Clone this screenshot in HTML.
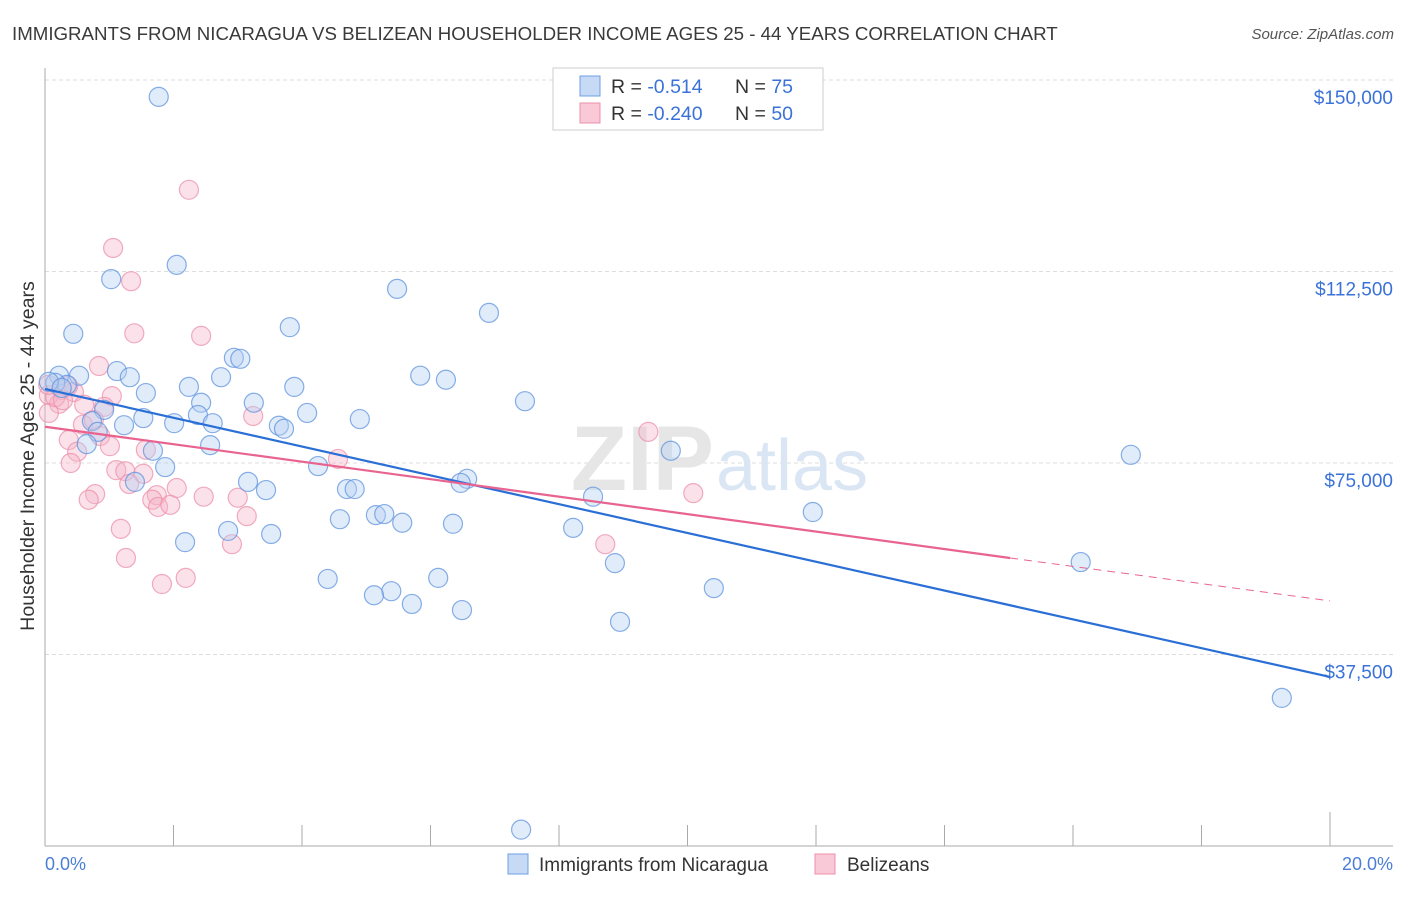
<!DOCTYPE html>
<html><head><meta charset="utf-8"><style>
body{margin:0;background:#fff;font-family:"Liberation Sans",sans-serif;}
svg text{font-family:"Liberation Sans",sans-serif;}
</style></head><body>
<svg id="chart" width="1406" height="892">
<text x="12" y="40" font-size="18.7" fill="#3a3a3a">IMMIGRANTS FROM NICARAGUA VS BELIZEAN HOUSEHOLDER INCOME AGES 25 - 44 YEARS CORRELATION CHART</text>
<text x="1394" y="39" font-size="15" fill="#555" text-anchor="end" font-style="italic">Source: ZipAtlas.com</text>
<g id="grid"></g>
<text x="714" y="490" font-size="92" fill="#e6e6e6" text-anchor="end" font-family="Liberation Serif" font-weight="bold">ZIP</text>
<text x="716" y="490" font-size="72" fill="#dbe6f4">atlas</text>
<g id="pts"></g>
<g id="lines"></g>
<text transform="translate(34,456) rotate(-90)" font-size="19.6" fill="#333" text-anchor="middle">Householder Income Ages 25 - 44 years</text>
<text x="45" y="870" font-size="18" fill="#4a7fd6">0.0%</text>
<text x="1393" y="870" font-size="18" fill="#4a7fd6" text-anchor="end">20.0%</text>
<g>
<rect x="553" y="68" width="270" height="62" fill="#fff" stroke="#ccc"/>
<rect x="580" y="76" width="20" height="20" fill="#c6d9f5" stroke="#6f9fe0"/>
<rect x="580" y="103" width="20" height="20" fill="#f9c9d7" stroke="#ec90ab"/>
<text x="611" y="93" font-size="19.5" fill="#333">R = <tspan fill="#3a72d8">-0.514</tspan><tspan x="735">N = </tspan><tspan fill="#3a72d8">75</tspan></text>
<text x="611" y="120" font-size="19.5" fill="#333">R = <tspan fill="#3a72d8">-0.240</tspan><tspan x="735">N = </tspan><tspan fill="#3a72d8">50</tspan></text>
</g>
<g>
<rect x="508" y="854" width="20" height="20" fill="#c6d9f5" stroke="#6f9fe0"/>
<text x="539" y="871" font-size="19" fill="#333">Immigrants from Nicaragua</text>
<rect x="815" y="854" width="20" height="20" fill="#f9c9d7" stroke="#ec90ab"/>
<text x="847" y="871" font-size="19" fill="#333">Belizeans</text>
</g>
</svg>
<script>
const yTicks=[150000,112500,75000,37500];
const yTickLabels=["$150,000","$112,500","$75,000","$37,500"];
const xTicks=[0,2,4,6,8,10,12,14,16,18,20];
const blueX=[1.77,2.05,1.03,5.48,6.91,3.81,0.44,2.94,3.04,1.12,0.53,1.32,2.74,0.22,5.84,6.24,2.24,3.88,1.57,0.34,0.16,7.47,2.43,3.25,4.08,2.38,0.92,1.53,4.90,2.01,2.61,1.23,0.73,3.64,3.72,0.82,0.65,2.57,9.74,16.90,1.68,1.87,4.25,6.57,6.47,3.16,4.70,4.82,3.44,1.40,8.53,11.95,5.15,5.28,4.59,5.56,6.35,8.22,2.85,3.52,2.18,8.87,16.12,4.40,6.12,5.39,5.12,5.71,6.49,10.41,8.95,19.25,7.41,0.06,0.26];
const blueY=[146700,113800,111000,109100,104400,101600,100300,95600,95400,93000,92100,91800,91800,92100,92100,91300,89900,89900,88700,90300,90700,87100,86800,86800,84800,84400,85400,83800,83600,82800,82800,82400,83200,82300,81700,81100,78700,78500,77400,76600,77400,74200,74400,71900,71100,71300,69900,69900,69700,71300,68400,65400,64800,65000,64000,63300,63100,62300,61700,61100,59500,55400,55600,52300,52500,49900,49100,47400,46200,50500,43900,29000,3200,90900,89700];
const pinkX=[2.24,1.06,1.34,1.39,2.43,0.84,1.04,3.24,0.26,0.06,0.45,0.36,0.22,0.61,0.92,0.59,0.76,0.37,0.86,1.01,1.57,0.50,4.56,9.39,0.40,1.11,1.25,1.53,1.31,0.78,2.05,0.68,1.74,1.67,2.47,3.00,1.76,1.95,3.14,1.18,2.91,8.72,10.09,1.26,2.19,1.82,0.06,0.16,0.28,0.05];
const pinkY=[128500,117100,110600,100400,99900,94000,88100,84200,89300,88300,88900,90100,86600,86400,86000,82500,83400,79500,80300,78300,77600,77200,75800,81100,75000,73600,73400,72900,70900,68900,70100,67800,68700,67800,68400,68200,66400,66800,64600,62100,59100,59100,69100,56400,52500,51300,84800,87900,87300,90300];
const blueTrend=[[0,89500],[20,33100]];
const pinkTrend=[[0,82100],[15.02,56400],[20,48000]];
const NS="http://www.w3.org/2000/svg";
const X=v=>45+v/20*1285;
const Y=v=>80+(150000-v)/37500*191.5;
function mk(tag,attrs,parent){const e=document.createElementNS(NS,tag);for(const k in attrs)e.setAttribute(k,attrs[k]);parent.appendChild(e);return e;}
const grid=document.getElementById('grid');
yTicks.forEach((t,i)=>{
 const l=mk('line',{x1:45,x2:1393,y1:Y(t),y2:Y(t),stroke:'#ddd','stroke-dasharray':'4,3'},grid);
 
 
 const tx=mk('text',{x:1393,y:Y(t)+24,'font-size':19,fill:'#3a72d8','text-anchor':'end'},grid);
 tx.textContent=yTickLabels[i];
 
 
});
const ax=mk('line',{x1:45,x2:45,y1:68,y2:846,stroke:'#aaa'},grid);


const bx=mk('line',{x1:45,x2:1393,y1:846,y2:846,stroke:'#aaa'},grid);


xTicks.forEach((t,i)=>{
 const tall=(i===0||i===xTicks.length-1);
 const l=mk('line',{x1:X(t),x2:X(t),y1:tall?812:825,y2:846,stroke:'#aaa'},grid);
 
 
});
const pts=document.getElementById('pts');
function drawPts(xs,ys,fill,stroke,name){
 xs.forEach((x,i)=>{
  const c=mk('circle',{cx:X(x),cy:Y(ys[i]),r:9.5,fill:fill,'fill-opacity':0.4,stroke:stroke,'stroke-width':1.2,'stroke-opacity':0.75},pts);
  
  
 });
}
drawPts(pinkX,pinkY,'#f6b5c8','#ec90ab','belizean-point');
drawPts(blueX,blueY,'#b5cff2','#5f93dd','nicaragua-point');
const lines=document.getElementById('lines');
const bl=mk('line',{x1:X(blueTrend[0][0]),y1:Y(blueTrend[0][1]),x2:X(blueTrend[1][0]),y2:Y(blueTrend[1][1]),stroke:'#2a6fd6','stroke-width':2.2},lines);


const pl=mk('line',{x1:X(pinkTrend[0][0]),y1:Y(pinkTrend[0][1]),x2:X(pinkTrend[1][0]),y2:Y(pinkTrend[1][1]),stroke:'#e8648f','stroke-width':2.2},lines);


const pd=mk('line',{x1:X(pinkTrend[1][0]),y1:Y(pinkTrend[1][1]),x2:X(pinkTrend[2][0]),y2:Y(pinkTrend[2][1]),stroke:'#e8648f','stroke-width':1,'stroke-dasharray':'8,6'},lines);


</script>
</body></html>
